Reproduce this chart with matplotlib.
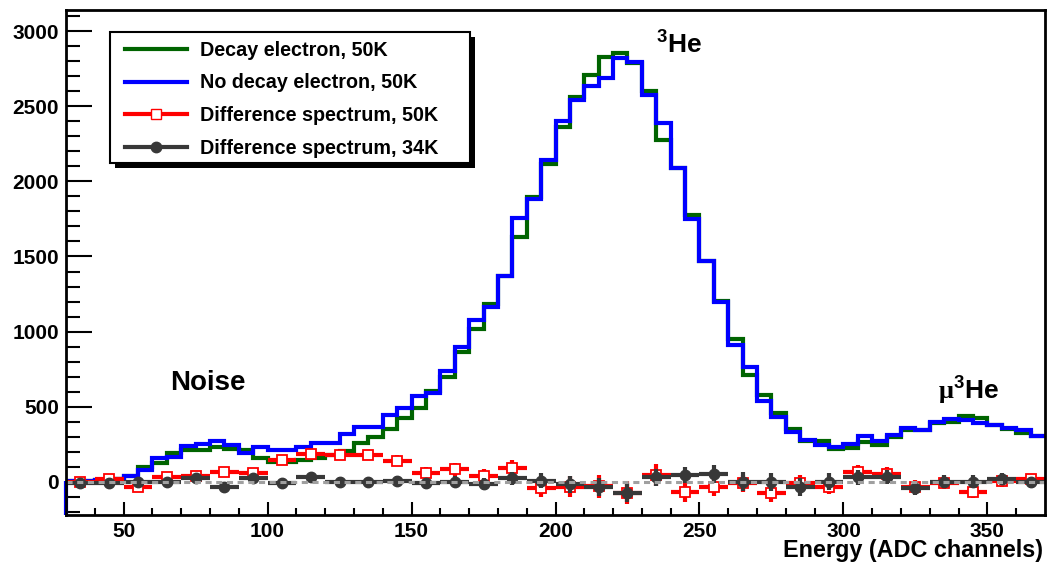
import numpy as np
import matplotlib
matplotlib.use("Agg")
import matplotlib.pyplot as plt
from matplotlib.lines import Line2D
from matplotlib.patches import Rectangle

plt.rcParams['font.family'] = ['Liberation Sans', 'DejaVu Sans']
plt.rcParams['font.weight'] = 'bold'
plt.rcParams['mathtext.fontset'] = 'custom'
plt.rcParams['mathtext.rm'] = 'Liberation Serif'
plt.rcParams['mathtext.bf'] = 'Liberation Sans:bold'

# ---- data ----
bin_lo, bin_hi, bin_w = 30, 370, 5
decay_50k = [5, 8, 15, 18, 40, 102, 124, 195, 213, 213,
             232, 217, 210, 157, 135, 135, 146, 157, 180, 207,
             257, 302, 350, 424, 490, 608, 696, 867, 1016, 1184,
             1371, 1632, 1898, 2116, 2360, 2559, 2708, 2830, 2852, 2790,
             2604, 2275, 2087, 1776, 1472, 1206, 949, 712, 579, 461,
             350, 275, 273, 220, 224, 268, 246, 297, 346, 346,
             390, 401, 439, 424, 379, 350, 328, 306]
nodecay_50k = [5, 8, 15, 18, 40, 80, 157, 169, 240, 251,
               270, 246, 191, 235, 213, 213, 235, 257, 257, 318,
               366, 366, 446, 490, 572, 590, 741, 900, 1078, 1167,
               1371, 1754, 1883, 2142, 2404, 2542, 2635, 2686, 2819, 2797,
               2575, 2386, 2087, 1748, 1472, 1200, 912, 767, 541, 435,
               335, 279, 246, 235, 250, 305, 273, 313, 361, 346,
               401, 417, 412, 395, 379, 357, 346, 306]

diff_w = 10
diff_50k = [0, 18, -35, 31, 40, 69, 58, 146, 186, 180,
            180, 142, 60, 84, 38, 95, -42, -31, -30, -72,
            47, -64, -35, -9, -75, -9, -31, 64, 51, -31,
            -4, -64, 9, 18]
diff_50k_err = [15, 15, 20, 25, 28, 30, 28, 28, 30, 32,
                35, 38, 42, 45, 48, 52, 60, 72, 75, 78,
                75, 68, 60, 58, 58, 55, 52, 48, 46, 44,
                42, 42, 40, 38]
diff_34k = [-4, -4, 2, 2, 24, -31, 29, -4, 31, 2,
            -2, 9, -9, 2, -13, 24, 9, -16, -31, -71,
            31, 47, 53, 2, -2, -35, 2, 31, 31, -42,
            2, 2, 18, -2]
diff_34k_err = [12, 12, 18, 22, 24, 26, 24, 24, 26, 28,
                30, 32, 36, 38, 40, 45, 52, 58, 60, 62,
                55, 55, 62, 62, 60, 58, 55, 50, 48, 45,
                42, 42, 40, 38]

labels = ["Decay electron, 50K", "No decay electron, 50K",
          "Difference spectrum, 50K", "Difference spectrum, 34K"]

# ---- figure ----
W, H = 1049, 568
fig = plt.figure(figsize=(W / 100, H / 100), dpi=100)
L, R, T, B = 66, 1045, 10, 515
ax = fig.add_axes([L / W, 1 - B / H, (R - L) / W, (B - T) / H])
ymin, ymax = -220, 3140
ax.set_xlim(bin_lo, bin_hi)
ax.set_ylim(ymin, ymax)

edges = np.arange(bin_lo, bin_hi + bin_w, bin_w)
green = '#006400'
blue = '#0000ff'
red = '#ff0000'
dark = '#383838'

ax.stairs(decay_50k, edges, color=green, lw=3.0, baseline=None, zorder=2)
ax.stairs(nodecay_50k, edges, color=blue, lw=3.0, baseline=None, zorder=2.1)
ax.vlines(edges[0], ymin, nodecay_50k[0], color=blue, lw=3.0, zorder=3, clip_on=False)

centers = np.arange(bin_lo + diff_w / 2, bin_hi, diff_w)
ax.errorbar(centers, diff_50k, xerr=diff_w / 2, yerr=diff_50k_err, fmt='s',
            color=red, mfc='white', mec=red, mew=1.3, ms=7.5,
            elinewidth=3.0, capsize=0, zorder=3)
ax.errorbar(centers, diff_34k, xerr=diff_w / 2, yerr=diff_34k_err, fmt='o',
            color=dark, mfc=dark, mec=dark, ms=7.5,
            elinewidth=3.0, capsize=0, zorder=3.2)
ax.axhline(0, color='#a0a0a0', lw=2.2, ls=(0, (2.0, 1.5)), zorder=3.5)

# axes styling
for s in ax.spines.values():
    s.set_linewidth(2.0)
    s.set_zorder(4)
ax.set_xticks(np.arange(50, 351, 50))
ax.set_xticks(np.arange(40, 370, 10), minor=True)
ax.set_yticks(np.arange(0, 3001, 500))
ax.set_yticks(np.arange(-200, 3101, 100), minor=True)
ax.tick_params(axis='both', which='both', direction='in', width=1.5,
               top=False, right=False, labelsize=15)
ax.tick_params(axis='y', which='major', length=19, pad=5)
ax.tick_params(axis='y', which='minor', length=10)
ax.tick_params(axis='x', which='major', length=9.5, pad=5)
ax.tick_params(axis='x', which='minor', length=5)
for lab in ax.get_xticklabels() + ax.get_yticklabels():
    lab.set_fontweight('bold')

fig.text(1043 / W, 1 - 551 / H, "Energy (ADC channels)", ha='right', va='center',
         fontsize=16.8, fontweight='bold')

# annotations
ax.text(79.4, 659, "Noise", ha='center', va='center', fontsize=20, fontweight='bold')
ax.text(243.0, 2914, r'$^{\mathbf{3}}\mathbf{He}$', ha='center', va='center', fontsize=19)
ax.text(343.6, 612, r'$\mathrm{\mu}^{\mathbf{3}}\mathbf{He}$', ha='center', va='center', fontsize=19)

# legend box (frame + shadow) drawn in figure pixels
lx0, ly0, lx1, ly1 = 110, 32, 470, 163
fig.patches.append(Rectangle((lx0 + 5, H - ly1 - 5), lx1 - lx0, ly1 - ly0,
                             transform=None, facecolor='black', edgecolor='none',
                             zorder=9))
fig.patches.append(Rectangle((lx0, H - ly1), lx1 - lx0, ly1 - ly0,
                             transform=None, facecolor='white', edgecolor='black',
                             lw=1.5, zorder=9.5))

handles = [Line2D([], [], color=green, lw=3.0),
           Line2D([], [], color=blue, lw=3.0),
           Line2D([], [], color=red, lw=3.0, marker='s', mfc='white', mec=red, ms=7.5),
           Line2D([], [], color=dark, lw=3.0, marker='o', mfc=dark, mec=dark, ms=7.5)]
leg = fig.legend(handles, labels, loc='upper left',
                 bbox_to_anchor=((lx0 + 6) / W, 1 - ly0 / H),
                 bbox_transform=fig.transFigure,
                 prop={'weight': 'bold', 'size': 14.2}, frameon=False,
                 borderaxespad=0, handlelength=3.15, handletextpad=0.65,
                 labelspacing=0.69, borderpad=0.45)
leg.set_zorder(10)

fig.savefig("out.png", dpi=100)
